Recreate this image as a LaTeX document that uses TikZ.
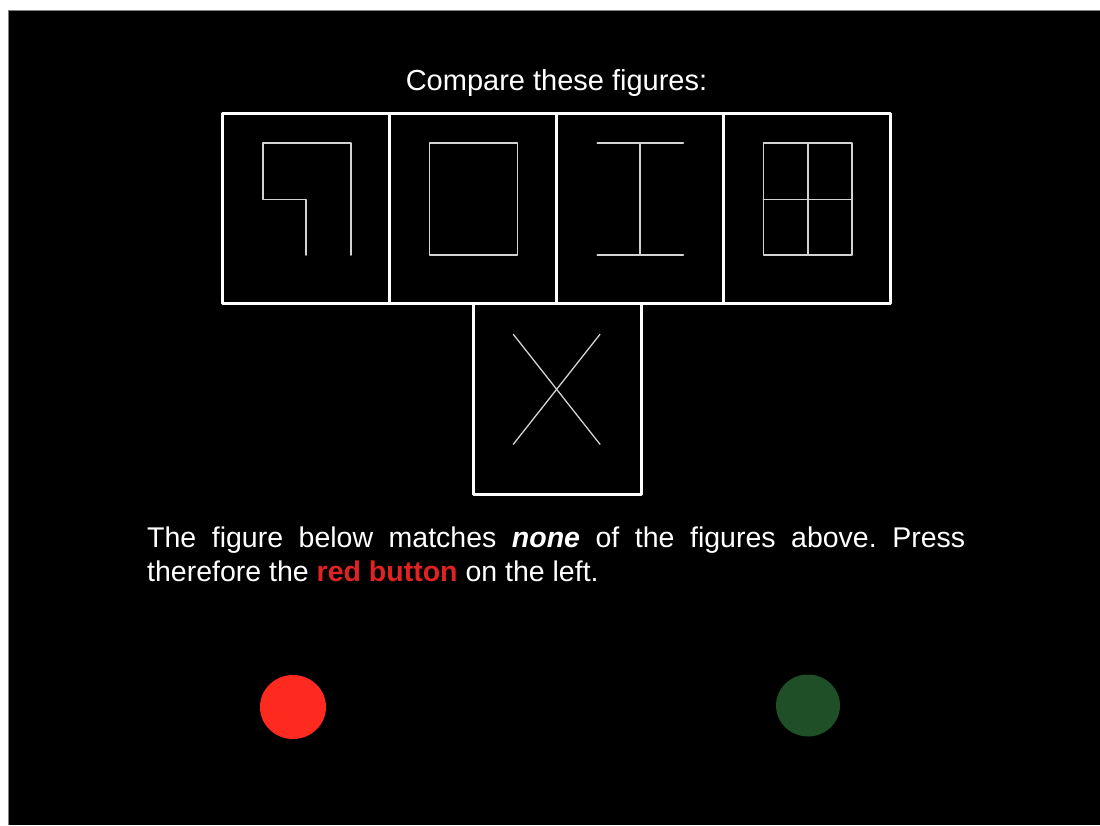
\documentclass[tikz,border=0pt]{standalone}
\usepackage{fontspec}
\setmainfont{Liberation Sans}
\definecolor{figgrey}{HTML}{D2D2D2}
\definecolor{btnred}{HTML}{FF2A1F}
\definecolor{btngreen}{HTML}{1E4F26}
\definecolor{txtred}{HTML}{E02222}
\frenchspacing
\begin{document}
\begin{tikzpicture}[x=1pt,y=-1pt,
  frame/.style={draw=white,line width=3pt,line join=round},
  fig/.style={draw=figgrey,line width=1.6pt,line join=round,line cap=round},
  txt/.style={text=white,inner sep=0pt,font=\fontsize{28.5}{33}\selectfont}]
\useasboundingbox (0,0) rectangle (1100,825);
\fill[white] (0,0) rectangle (1100,825);
\fill[black] (8,10) rectangle (1100,825);
\draw[gray,line width=0.8pt] (8,825) -- (8,10) -- (1100,10);

% title
\node[txt,anchor=base,font=\fontsize{29}{34}\selectfont] (title) at (556.5,90.5) {Compare these figures:};

% frames
\draw[frame] (222,113) rectangle (389,303);
\draw[frame] (389,113) rectangle (556,303);
\draw[frame] (556,113) rectangle (723,303);
\draw[frame] (723,113) rectangle (890,303);
\draw[frame] (473,303) rectangle (641,494);

% figure 1
\draw[fig] (305.7,255) -- (305.7,199.3) -- (262.7,199.3) -- (262.7,142.7) -- (350.7,142.7) -- (350.7,255);
% figure 2
\draw[fig] (429.3,142.7) rectangle (517.3,255);
% figure 3
\draw[fig] (597.3,142.7) -- (683.3,142.7);
\draw[fig] (597.3,255) -- (683.3,255);
\draw[fig] (640,142.7) -- (640,255);
% figure 4
\draw[fig] (763.3,142.7) rectangle (851.7,255);
\draw[fig] (807.7,142.7) -- (807.7,255);
\draw[fig] (763.3,199.3) -- (851.7,199.3);
% figure 5
\draw[fig,line width=1.3pt] (513.3,334.3) -- (600,444.3);
\draw[fig,line width=1.3pt] (600,334.3) -- (513.3,444.3);

% text
\node[txt,anchor=base west] (line1) at (147,547)
  {\makebox[818pt][s]{The figure below matches \textbf{\textit{none}} of the figures above. Press}};
\node[txt,anchor=base west] (line2) at (147,581)
  {therefore the \textcolor{txtred}{\textbf{red button}} on the left.};

% buttons
\fill[btnred] (293,707) ellipse [x radius=33pt, y radius=32pt];
\fill[btngreen] (808,705.5) ellipse [x radius=32pt, y radius=31pt];
\end{tikzpicture}
\end{document}
